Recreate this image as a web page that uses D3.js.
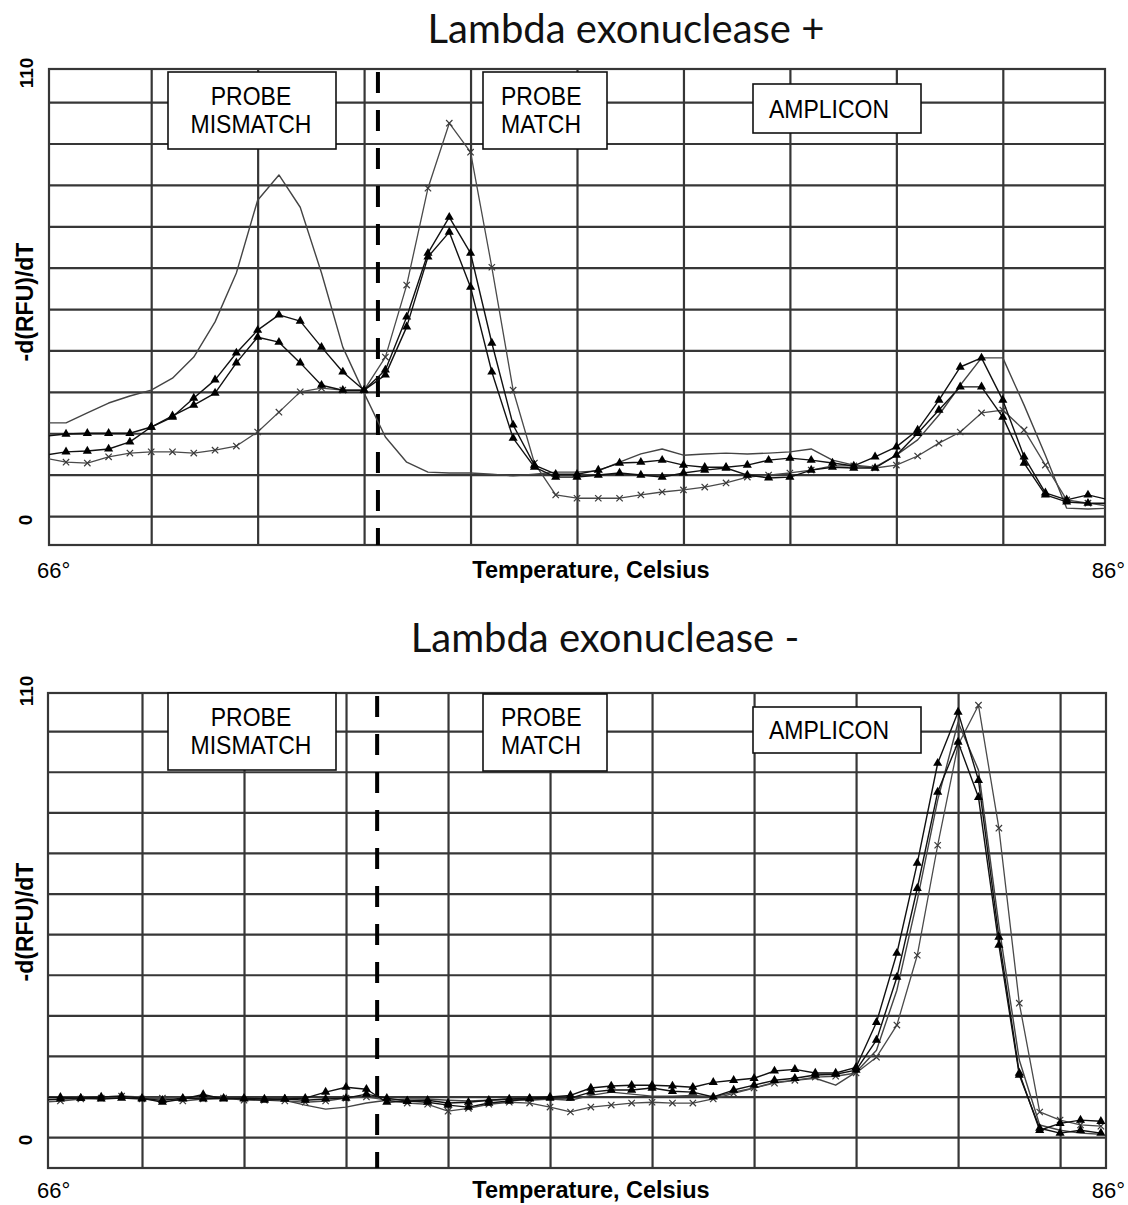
<!DOCTYPE html>
<html>
<head>
<meta charset="utf-8">
<script src="https://cdn.jsdelivr.net/npm/d3@7"></script>
<style>
  body { margin: 0; background: #fff; }
  svg { display: block; }
</style>
</head>
<body>
<svg id="chart" width="1128" height="1205"></svg>
<script>
// Melt-curve derivative readings, one sample every 0.4 °C
const temps = [66.0, 66.4, 66.8, 67.2, 67.6, 68.0, 68.4, 68.8, 69.2, 69.6,
  70.0, 70.4, 70.8, 71.2, 71.6, 72.0, 72.4, 72.8, 73.2, 73.6,
  74.0, 74.4, 74.8, 75.2, 75.6, 76.0, 76.4, 76.8, 77.2, 77.6,
  78.0, 78.4, 78.8, 79.2, 79.6, 80.0, 80.4, 80.8, 81.2, 81.6,
  82.0, 82.4, 82.8, 83.2, 83.6, 84.0, 84.4, 84.8, 85.2, 85.6,
  86.0, 86.4, 86.8];

// Lambda exonuclease + (four reactions)
const plusPlain = [22.5, 22.5, 24.9, 27.3, 29.0, 30.4, 33.3, 38.4, 46.9, 58.7,
  76.3, 82.4, 74.6, 58.7, 40.8, 29.7, 19.1, 13.0, 10.6, 10.4,
  10.4, 10.1, 9.7, 10.1, 10.6, 10.6, 10.9, 13.0, 15.0, 16.2,
  14.7, 15.0, 15.2, 15.0, 15.2, 15.5, 16.2, 13.5, 12.3, 11.8,
  14.7, 18.4, 24.4, 31.6, 38.2, 38.2, 26.8, 14.7, 1.9, 1.7, 1.9];
const plusCross = [14.0, 13.0, 12.8, 14.3, 15.2, 15.5, 15.5, 15.2, 15.9, 16.9,
  20.3, 25.1, 30.0, 30.9, 30.4, 30.4, 38.4, 55.8, 79.2, 94.9,
  87.9, 60.1, 30.4, 12.8, 5.1, 4.3, 4.3, 4.3, 5.1, 5.8,
  6.3, 7.0, 8.0, 9.4, 9.9, 10.4, 11.1, 12.1, 12.1, 11.6,
  12.3, 14.5, 17.6, 20.3, 24.9, 25.6, 20.8, 12.3, 3.9, 3.1, 2.4];
const plusTriA = [19.3, 19.8, 20.0, 20.0, 20.0, 21.5, 23.9, 28.5, 32.9, 39.4,
  44.9, 48.6, 47.1, 40.8, 34.8, 30.4, 35.3, 48.1, 63.5, 72.2,
  63.5, 41.8, 22.0, 12.3, 10.1, 10.1, 11.1, 12.8, 13.0, 13.5,
  12.3, 11.8, 11.8, 12.3, 13.5, 14.0, 13.5, 12.8, 12.1, 14.3,
  16.7, 20.8, 28.0, 36.0, 38.2, 28.0, 14.3, 5.6, 3.9, 5.1, 3.9];
const plusTriB = [14.7, 15.5, 15.7, 16.2, 17.9, 21.5, 24.2, 26.8, 29.7, 37.0,
  43.2, 42.0, 37.0, 31.6, 30.4, 30.4, 34.1, 45.7, 62.6, 68.6,
  55.3, 34.8, 18.8, 11.8, 9.4, 9.4, 9.9, 10.4, 9.9, 9.4,
  10.4, 11.1, 11.6, 9.9, 9.2, 9.4, 11.1, 11.8, 11.6, 11.6,
  14.7, 20.0, 25.6, 31.2, 31.2, 23.9, 12.8, 5.1, 3.4, 3.1, 3.1];

// Lambda exonuclease - (four reactions)
const minusPlain = [9.6, 9.9, 9.6, 9.9, 10.1, 9.9, 9.6, 9.9, 9.6, 9.4,
  9.6, 9.6, 9.1, 7.9, 6.9, 7.4, 8.4, 9.1, 9.4, 9.4,
  9.1, 8.9, 9.1, 9.4, 9.1, 9.4, 9.1, 10.3, 11.1, 10.6,
  10.1, 10.1, 10.3, 9.9, 11.1, 12.1, 13.5, 14.0, 14.5, 12.8,
  16.0, 21.4, 36.2, 58.4, 83.0, 102.2, 90.4, 52.2, 19.0, 3.0,
  1.7, 1.0, 0.7];
const minusCross = [8.6, 8.9, 9.4, 9.6, 10.1, 9.4, 9.6, 8.9, 9.4, 9.6,
  9.1, 9.1, 8.9, 8.6, 8.9, 9.6, 9.9, 9.1, 8.4, 8.1,
  6.4, 7.1, 8.1, 8.6, 8.4, 7.4, 6.2, 7.4, 7.9, 8.4,
  8.6, 8.4, 8.4, 9.4, 10.8, 12.1, 13.3, 14.0, 14.8, 15.0,
  15.8, 19.7, 27.6, 44.8, 71.9, 96.6, 106.4, 76.1, 33.0, 6.2,
  4.2, 3.0, 2.7];
const minusTriA = [9.8, 9.8, 9.6, 9.9, 10.1, 9.6, 8.6, 9.4, 10.5, 9.4,
  9.6, 9.4, 9.4, 9.6, 11.1, 12.3, 11.8, 8.6, 8.9, 9.1,
  8.4, 8.6, 9.1, 9.4, 9.6, 9.9, 10.3, 12.1, 12.6, 12.8,
  12.8, 12.6, 12.3, 13.5, 14.0, 14.5, 16.3, 16.7, 15.8, 15.8,
  17.2, 28.3, 45.3, 67.5, 92.1, 104.7, 87.9, 49.3, 15.8, 1.7,
  3.4, 4.2, 3.9];
const minusTriB = [9.1, 9.4, 9.6, 9.4, 9.6, 9.4, 9.1, 9.6, 9.4, 9.6,
  9.4, 9.1, 9.4, 9.1, 9.4, 9.6, 10.6, 9.6, 8.9, 8.6,
  7.9, 7.4, 8.4, 8.9, 9.4, 9.6, 9.6, 11.1, 11.6, 11.6,
  12.1, 11.3, 11.1, 9.9, 11.6, 12.8, 14.0, 14.5, 15.3, 15.5,
  16.5, 23.9, 39.4, 61.3, 85.0, 97.3, 83.7, 47.3, 15.3, 2.2,
  1.0, 1.7, 1.0];

// Axis text and annotations
const titles = ["Lambda exonuclease +", "Lambda exonuclease -"];
const gridTemps = [68, 70, 72, 74, 76, 78, 80, 82, 84, 86];
const gridValues = [0, 10, 20, 30, 40, 50, 60, 70, 80, 90, 100];
const yEndLabels = ["0", "110"];
const xEndLabels = ["66°", "86°"];
const yAxisTitle = "-d(RFU)/dT";
const xAxisTitle = "Temperature, Celsius";
const regionLabels = [["PROBE", "MISMATCH"], ["PROBE", "MATCH"], ["AMPLICON"]];

const GRID = "#363636";
const svg = d3.select("#chart");

// Panel geometry (pixels) and axis ranges
const panels = [
  {
    title: titles[0], titleX: 626, titleY: 43,
    x0: 49, x1: 1105, y0: 69, y1: 545,
    tDomain: [66.08, 85.92], vDomain: [-7.0, 108.0],
    divider: 72.26,
    series: [plusPlain, plusCross, plusTriA, plusTriB],
    boxes: [
      { x: 168, y: 72, w: 168, h: 77, tx: 251, anchor: "middle", lines: regionLabels[0], dy: [33, 61] },
      { x: 483, y: 72, w: 124, h: 77, tx: 501, anchor: "start", lines: regionLabels[1], dy: [33, 61] },
      { x: 753, y: 84, w: 168, h: 49, tx: 769, anchor: "start", lines: regionLabels[2], dy: [34] }
    ],
    labelY: 578, y110: 73, y0Label: 520, yTitleC: 302
  },
  {
    title: titles[1], titleX: 605, titleY: 652,
    x0: 48, x1: 1106, y0: 693, y1: 1168,
    tDomain: [66.157, 86.9], vDomain: [-7.6, 109.4],
    divider: 72.61,
    series: [minusPlain, minusCross, minusTriA, minusTriB],
    boxes: [
      { x: 168, y: 693, w: 168, h: 77, tx: 251, anchor: "middle", lines: regionLabels[0], dy: [33, 61] },
      { x: 483, y: 694, w: 124, h: 77, tx: 501, anchor: "start", lines: regionLabels[1], dy: [32, 60] },
      { x: 753, y: 707, w: 168, h: 46, tx: 769, anchor: "start", lines: regionLabels[2], dy: [32] }
    ],
    labelY: 1198, y110: 691, y0Label: 1140, yTitleC: 922
  }
];

const seriesStyle = [
  { stroke: "#444", width: 1.4, marker: null },
  { stroke: "#4a4a4a", width: 1.3, marker: "cross" },
  { stroke: "#111", width: 1.4, marker: "tri" },
  { stroke: "#111", width: 1.4, marker: "tri" }
];

panels.forEach((p, pi) => {
  const x = d3.scaleLinear().domain(p.tDomain).range([p.x0, p.x1]);
  const y = d3.scaleLinear().domain(p.vDomain).range([p.y1, p.y0]);
  const g = svg.append("g");

  // title
  g.append("text")
    .attr("x", p.titleX).attr("y", p.titleY)
    .attr("text-anchor", "middle")
    .attr("font-family", "Lato, 'Open Sans', sans-serif")
    .attr("font-size", 40)
    .attr("fill", "#111")
    .text(p.title);

  // vertical grid from the temperature axis
  const inner = gridTemps.filter(t => t > p.tDomain[0] + 0.2 && t < p.tDomain[1] - 0.2);
  g.append("g")
    .attr("transform", `translate(0,${p.y1})`)
    .call(d3.axisBottom(x).tickValues(inner).tickSize(-(p.y1 - p.y0)).tickFormat(""))
    .call(s => s.select(".domain").remove())
    .selectAll("line").attr("stroke", GRID).attr("stroke-width", 2.2);

  // horizontal grid from the value axis
  g.append("g")
    .attr("transform", `translate(${p.x0},0)`)
    .call(d3.axisLeft(y).tickValues(gridValues).tickSize(-(p.x1 - p.x0)).tickFormat(""))
    .call(s => s.select(".domain").remove())
    .selectAll("line").attr("stroke", GRID).attr("stroke-width", 2.2);

  // plot frame
  g.append("rect")
    .attr("x", p.x0).attr("y", p.y0)
    .attr("width", p.x1 - p.x0).attr("height", p.y1 - p.y0)
    .attr("fill", "none").attr("stroke", GRID).attr("stroke-width", 2.2);

  // divider between mismatch and match regions
  g.append("line")
    .attr("x1", x(p.divider)).attr("x2", x(p.divider))
    .attr("y1", p.y0 + 3).attr("y2", p.y1)
    .attr("stroke", "#000").attr("stroke-width", 4)
    .attr("stroke-dasharray", "21,17");

  // curves, clipped to the plot area
  const clipId = `plot-clip-${pi}`;
  svg.append("clipPath").attr("id", clipId)
    .append("rect")
    .attr("x", p.x0).attr("y", p.y0)
    .attr("width", p.x1 - p.x0).attr("height", p.y1 - p.y0);
  const data = g.append("g").attr("clip-path", `url(#${clipId})`);

  const line = d3.line()
    .x((d, i) => x(temps[i]))
    .y(d => y(d));

  const tri = d3.symbol().type(d3.symbolTriangle).size(36);
  const cross = d3.symbol().type(d3.symbolX).size(28);

  p.series.forEach((vals, si) => {
    const st = seriesStyle[si];
    data.append("path")
      .datum(vals)
      .attr("d", line)
      .attr("fill", "none")
      .attr("stroke", st.stroke)
      .attr("stroke-width", st.width)
      .attr("stroke-linejoin", "round");
    if (st.marker === "tri") {
      data.append("g").selectAll("path")
        .data(vals)
        .join("path")
        .attr("transform", (d, i) => `translate(${x(temps[i])},${y(d)})`)
        .attr("d", tri)
        .attr("fill", "#000");
    } else if (st.marker === "cross") {
      data.append("g").selectAll("path")
        .data(vals)
        .join("path")
        .attr("transform", (d, i) => `translate(${x(temps[i])},${y(d)})`)
        .attr("d", cross)
        .attr("fill", "none")
        .attr("stroke", "#3a3a3a")
        .attr("stroke-width", 1.2);
    }
  });

  // region labels
  p.boxes.forEach(b => {
    g.append("rect")
      .attr("x", b.x).attr("y", b.y).attr("width", b.w).attr("height", b.h)
      .attr("fill", "#fff").attr("stroke", "#111").attr("stroke-width", 1.6);
    b.lines.forEach((txt, li) => {
      g.append("text")
        .attr("transform", `translate(${b.tx},${b.y + b.dy[li]}) scale(1,1.12)`)
        .attr("text-anchor", b.anchor)
        .attr("font-family", "'Liberation Sans', Arial, sans-serif")
        .attr("font-size", 23)
        .attr("fill", "#000")
        .text(txt);
    });
  });

  // value-axis labels (rotated)
  const rot = (cx, cy, txt, size) => g.append("text")
    .attr("transform", `translate(${cx},${cy}) rotate(-90)`)
    .attr("text-anchor", "middle")
    .attr("font-family", "'Liberation Sans', Arial, sans-serif")
    .attr("font-weight", "bold")
    .attr("font-size", size)
    .attr("fill", "#000")
    .text(txt);
  rot(33, p.y110, yEndLabels[1], 19);
  rot(32, p.y0Label, yEndLabels[0], 19);
  rot(33, p.yTitleC, yAxisTitle, 23);

  // temperature-axis labels
  g.append("text")
    .attr("x", 37).attr("y", p.labelY)
    .attr("font-family", "'Liberation Sans', Arial, sans-serif")
    .attr("font-size", 22).attr("fill", "#000")
    .text(xEndLabels[0]);
  g.append("text")
    .attr("x", 1125).attr("y", p.labelY)
    .attr("text-anchor", "end")
    .attr("font-family", "'Liberation Sans', Arial, sans-serif")
    .attr("font-size", 22).attr("fill", "#000")
    .text(xEndLabels[1]);
  g.append("text")
    .attr("x", 591).attr("y", p.labelY)
    .attr("text-anchor", "middle")
    .attr("font-family", "'Liberation Sans', Arial, sans-serif")
    .attr("font-weight", "bold")
    .attr("font-size", 23.5).attr("fill", "#000")
    .text(xAxisTitle);
});
</script>
</body>
</html>
